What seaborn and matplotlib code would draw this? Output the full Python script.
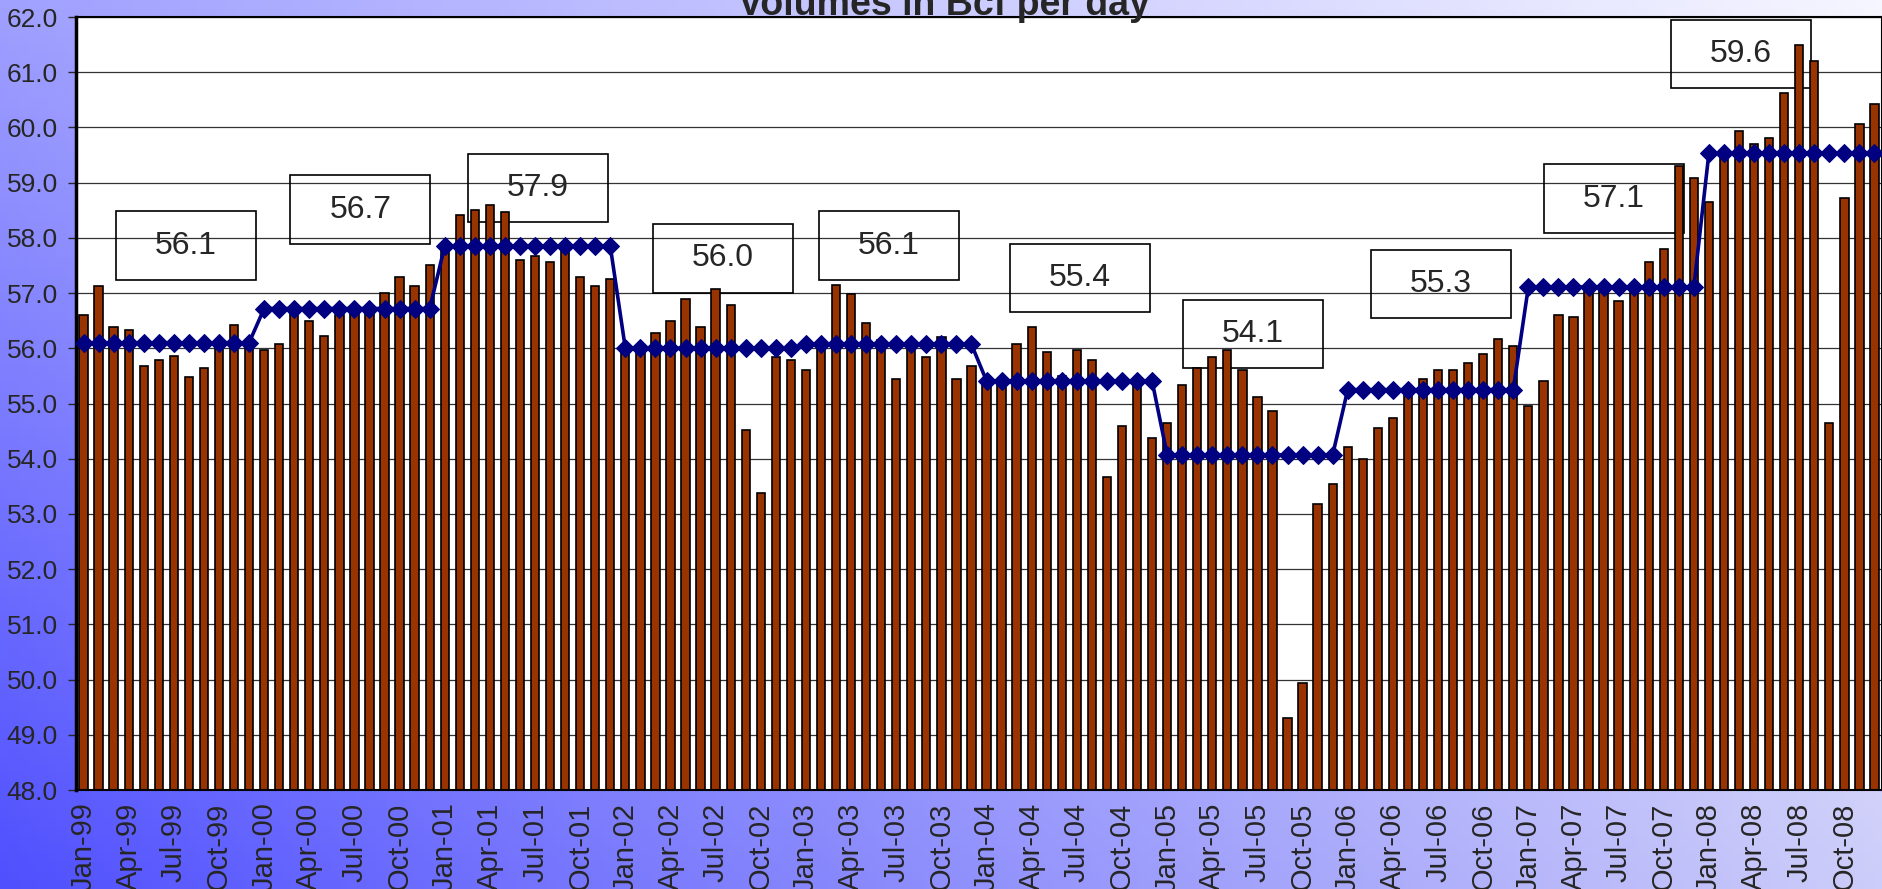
import numpy as np
import pandas as pd
import seaborn as sns
import matplotlib.pyplot as plt
from matplotlib.patches import Rectangle
from matplotlib.ticker import FormatStrFormatter

# ==========================
# DATA (Bcf per day, monthly)
# ==========================
years = list(range(1999, 2009))
month_names = ["Jan", "Feb", "Mar", "Apr", "May", "Jun",
               "Jul", "Aug", "Sep", "Oct", "Nov", "Dec"]

vol_1999 = [56.60, 57.12, 56.38, 56.34, 55.68, 55.79, 55.86, 55.48, 55.64, 56.05, 56.42, 56.00]
vol_2000 = [55.96, 56.07, 56.65, 56.49, 56.22, 56.60, 56.70, 56.75, 57.00, 57.30, 57.12, 57.50]
vol_2001 = [57.88, 58.42, 58.50, 58.60, 58.46, 57.60, 57.67, 57.56, 57.80, 57.30, 57.12, 57.26]
vol_2002 = [55.95, 56.05, 56.27, 56.49, 56.90, 56.38, 57.08, 56.78, 54.52, 53.37, 55.85, 55.78]
vol_2003 = [55.60, 56.10, 57.15, 56.98, 56.46, 56.15, 55.45, 56.05, 55.85, 56.20, 55.45, 55.68]
vol_2004 = [55.40, 55.40, 56.08, 56.38, 55.94, 55.50, 55.97, 55.78, 53.67, 54.59, 55.45, 54.38]
vol_2005 = [54.64, 55.33, 55.64, 55.85, 55.97, 55.60, 55.12, 54.86, 49.31, 49.94, 53.18, 53.55]
vol_2006 = [54.22, 53.99, 54.55, 54.74, 55.20, 55.45, 55.60, 55.60, 55.74, 55.90, 56.16, 56.04]
vol_2007 = [54.96, 55.41, 56.60, 56.56, 57.05, 57.05, 56.86, 57.00, 57.57, 57.79, 59.31, 59.09]
vol_2008 = [58.65, 59.60, 59.94, 59.70, 59.81, 60.62, 61.50, 61.21, 54.64, 58.73, 60.07, 60.43]

annual_avg = [56.10, 56.72, 57.85, 56.00, 56.07, 55.41, 54.07, 55.25, 57.11, 59.54]
avg_labels = ["56.1", "56.7", "57.9", "56.0", "56.1", "55.4", "54.1", "55.3", "57.1", "59.6"]

# label box placement (category index, value)
box_x = [6.8, 18.4, 30.2, 42.5, 53.5, 66.2, 77.7, 90.2, 101.7, 110.1]
box_y = [57.86, 58.51, 58.90, 57.63, 57.86, 57.27, 56.26, 57.16, 58.71, 61.33]

monthly = (vol_1999 + vol_2000 + vol_2001 + vol_2002 + vol_2003 +
           vol_2004 + vol_2005 + vol_2006 + vol_2007 + vol_2008)
month_labels = [f"{m}-{str(y)[2:]}" for y in years for m in month_names]

df = pd.DataFrame({
    "pos": np.arange(len(monthly)),
    "volume": monthly,
    "avg": np.repeat(annual_avg, 12),
})

# ==========================
# PLOT
# ==========================
sns.set_style("white")
plt.rcParams["font.family"] = ["Liberation Sans", "DejaVu Sans"]

W, H = 1883, 889
fig = plt.figure(figsize=(W / 100, H / 100), dpi=100)

# gradient background (bottom-left blue -> top-right pale)
bg = fig.add_axes([0, 0, 1, 1], zorder=-10)
gx, gy = np.meshgrid(np.linspace(0, 1, 200), np.linspace(0, 1, 100))
c_bl = np.array([80, 80, 255]) / 255
c_br = np.array([205, 205, 250]) / 255
c_tl = np.array([160, 160, 255]) / 255
c_tr = np.array([246, 246, 255]) / 255
img = (c_bl * ((1 - gx) * (1 - gy))[..., None] + c_br * (gx * (1 - gy))[..., None] +
       c_tl * ((1 - gx) * gy)[..., None] + c_tr * (gx * gy)[..., None])
bg.imshow(np.clip(img, 0, 1), origin="lower", extent=[0, 1, 0, 1], aspect="auto")
bg.axis("off")

ax = fig.add_axes([76 / W, 1 - 790 / H, 1806 / W, 773 / H])
ax.set_facecolor("white")

sns.barplot(data=df, x="pos", y="volume", color="#993300", saturation=1,
            width=0.55, edgecolor="black", linewidth=1.2, ax=ax, zorder=2)
sns.lineplot(data=df, x="pos", y="avg", color="#000080", linewidth=2.6,
             marker="D", markersize=9.5, markeredgecolor="#000080",
             errorbar=None, ax=ax, zorder=3)

# annual average boxes
for lab, cx, cy in zip(avg_labels, box_x, box_y):
    ax.add_patch(Rectangle((cx - 4.65, cy - 0.62), 9.3, 1.24, fill=False,
                           edgecolor="black", linewidth=1.2, zorder=1.5))
    ax.text(cx, cy, lab, ha="center", va="center", fontsize=23, zorder=5)

ax.set_xlim(-0.5, len(monthly) - 0.5)
ax.set_ylim(48, 62)
ax.set_yticks(np.arange(48, 62.1, 1))
ax.yaxis.set_major_formatter(FormatStrFormatter("%.1f"))
ax.yaxis.grid(True, color="#333333", linewidth=0.9)
ax.set_axisbelow(True)

ax.set_xticks(np.arange(0, len(monthly), 3))
ax.set_xticklabels(month_labels[::3], rotation=90)
ax.set_xticks(np.arange(-0.5, len(monthly), 1), minor=True)
ax.tick_params(axis="x", which="major", length=0, pad=9, labelsize=21)
ax.tick_params(axis="x", which="minor", length=6, width=1, color="#333333")
ax.tick_params(axis="y", length=6, width=1, pad=7, labelsize=19, left=True)
ax.set_xlabel("")
ax.set_ylabel("")

for s in ax.spines.values():
    s.set_color("black")
    s.set_linewidth(1.5)
ax.spines["left"].set_linewidth(2.5)

fig.text(944 / W, 1 - 15 / H, "Volumes in Bcf per day", ha="center",
         va="baseline", fontsize=27, fontweight="bold")

plt.savefig("out.png", dpi=100)
